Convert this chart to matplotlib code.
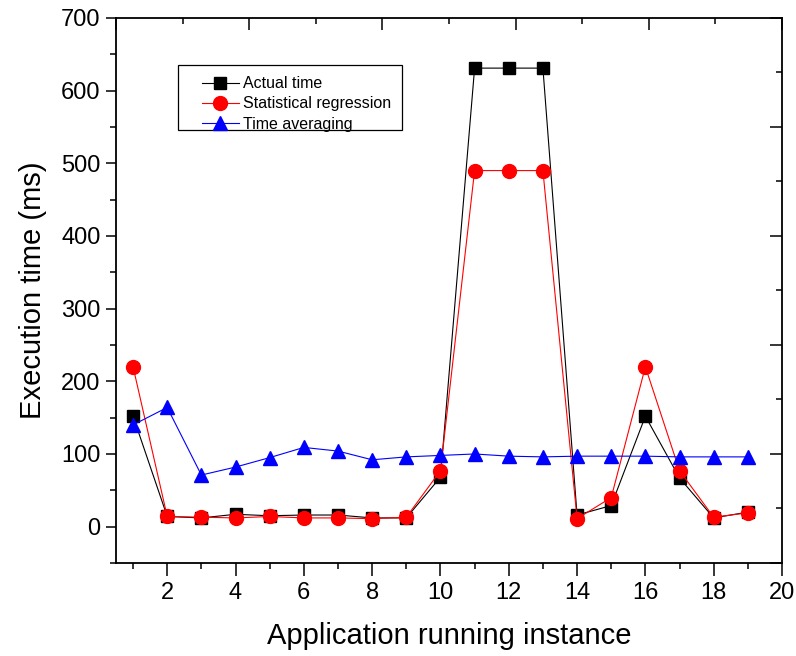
import numpy as np
import matplotlib
matplotlib.use("Agg")
import matplotlib.pyplot as plt
from matplotlib.ticker import MultipleLocator
from matplotlib.patches import Rectangle

plt.rcParams['font.family'] = ['Liberation Sans', 'DejaVu Sans']

# data
instance = list(range(1, 20))
actual_time = [152, 14, 12, 17, 15, 16, 16, 12, 12, 68, 631, 631, 631, 16, 29, 152, 67, 12, 20]
stat_regression = [220, 14, 13, 12, 14, 12, 12, 11, 13, 77, 490, 490, 490, 11, 40, 220, 77, 13, 19]
time_averaging = [140, 164, 71, 82, 95, 109, 104, 92, 96, 98, 100, 97, 96, 97, 97, 97, 96, 96, 96]

fig = plt.figure(figsize=(7.96, 6.56), dpi=100)
pos = [0.1457, 0.1418, 0.8367, 0.8308]
ax = fig.add_axes(pos)

ax.plot(instance, actual_time, color='black', lw=0.8, marker='s', ms=8.5,
        label='Actual time')
ax.plot(instance, stat_regression, color='red', lw=0.8, marker='o', ms=10,
        label='Statistical regression')
ax.plot(instance, time_averaging, color='blue', lw=0.8, marker='^', ms=10,
        label='Time averaging')

ax.set_xlim(0.5, 20)
ax.set_ylim(-50, 700)
ax.xaxis.set_major_locator(MultipleLocator(2))
ax.xaxis.set_minor_locator(MultipleLocator(1))
ax.yaxis.set_major_locator(MultipleLocator(100))
ax.yaxis.set_minor_locator(MultipleLocator(50))
ax.tick_params(axis='x', which='major', direction='out', length=9, width=1.1,
               labelsize=17, pad=5)
ax.tick_params(axis='x', which='minor', direction='out', length=4.5, width=1.1)
ax.tick_params(axis='y', which='major', direction='out', length=7, width=1.1,
               labelsize=17, pad=4)
ax.tick_params(axis='y', which='minor', direction='out', length=4, width=1.1)
for s in ax.spines.values():
    s.set_linewidth(1.3)

ax.set_xlabel('Application running instance', fontsize=21, labelpad=12.5)
ax.set_ylabel('Execution time (ms)', fontsize=21, labelpad=10)

# legend without its own frame; box drawn separately to match the padding
leg = ax.legend(loc='upper left', bbox_to_anchor=(0.129, 0.893), fontsize=11.5,
                frameon=False, handlelength=2.3, borderpad=0, labelspacing=0.32,
                handletextpad=0.3, borderaxespad=0)
ax.add_patch(Rectangle((0.0931, 0.7945), 0.3363, 0.1193, transform=ax.transAxes,
                       fill=False, edgecolor='black', lw=0.9, zorder=5))

# opposite axes: ten equal divisions, ticks pointing inward
ax2 = fig.add_axes(pos)
ax2.patch.set_visible(False)
ax2.set_xlim(0, 10)
ax2.set_ylim(0, 10)
ax2.xaxis.set_major_locator(MultipleLocator(2))
ax2.xaxis.set_minor_locator(MultipleLocator(1))
ax2.yaxis.set_major_locator(MultipleLocator(2))
ax2.yaxis.set_minor_locator(MultipleLocator(1))
ax2.tick_params(which='both', bottom=False, left=False, top=True, right=True,
                labelbottom=False, labelleft=False, direction='in', width=1.1)
ax2.tick_params(which='major', length=8.5)
ax2.tick_params(which='minor', length=4.5)
for s in ax2.spines.values():
    s.set_visible(False)

fig.savefig('out.png', dpi=100)
